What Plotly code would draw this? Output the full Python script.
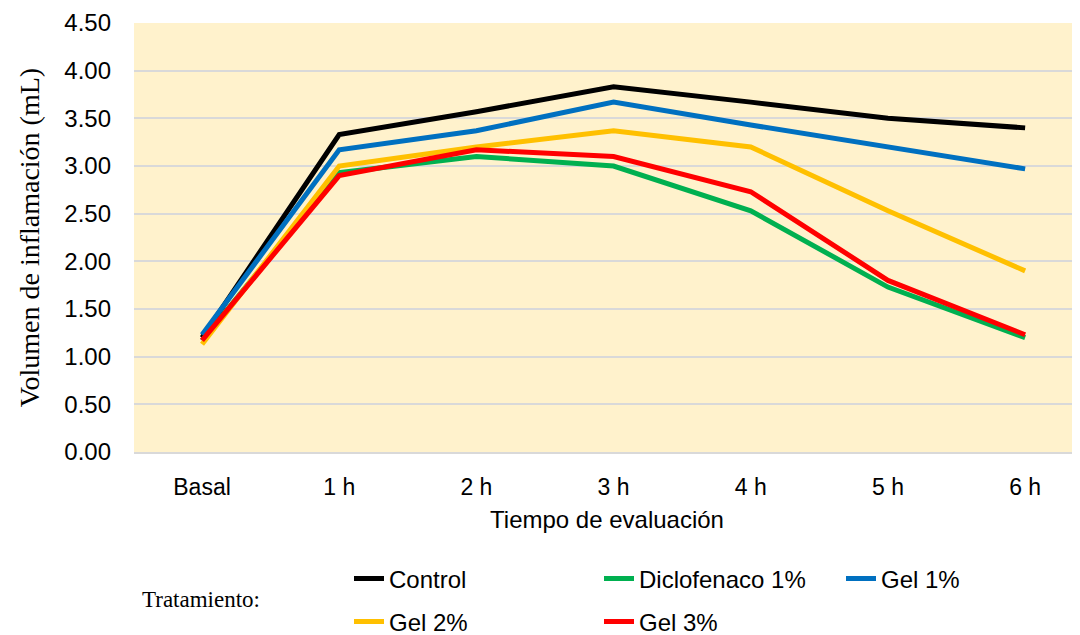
import plotly.graph_objects as go

categories = ["Basal", "1 h", "2 h", "3 h", "4 h", "5 h", "6 h"]
control = [1.20, 3.33, 3.57, 3.83, 3.67, 3.50, 3.40]
diclofenaco = [1.17, 2.93, 3.10, 3.00, 2.53, 1.73, 1.20]
gel1 = [1.23, 3.17, 3.37, 3.67, 3.43, 3.20, 2.97]
gel2 = [1.13, 3.00, 3.20, 3.37, 3.20, 2.53, 1.90]
gel3 = [1.17, 2.90, 3.17, 3.10, 2.73, 1.80, 1.23]

names = ["Control", "Diclofenaco 1%", "Gel 1%", "Gel 2%", "Gel 3%"]
values = [control, diclofenaco, gel1, gel2, gel3]
colors = ["#000000", "#00B050", "#0070C0", "#FFC000", "#FF0000"]
legend_ids = ["legend", "legend2", "legend3", "legend4", "legend5"]
# legend text start (px) and row center (px from top), as seen on screen
legend_pos = [(390, 580), (640, 580), (882, 580), (390, 623), (640, 623)]

OFF = 8  # page body margin offset
W, H = 1080 - OFF, 635 - OFF
L, R, T = 126, 0, 15
PH = 429
B = H - T - PH
PW = W - L - R

fig = go.Figure()
for name, vals, color, lg in zip(names, values, colors, legend_ids):
    fig.add_trace(go.Scatter(
        x=categories, y=vals, name=name, mode="lines",
        line=dict(color=color, width=5),
        legend=lg,
    ))

sans = "Liberation Sans, Arial"
serif = "Liberation Serif, Times New Roman"

legends = {}
for lg, (tx, ty) in zip(legend_ids, legend_pos):
    legends[lg] = dict(
        xref="container", yref="container",
        x=(tx - OFF - 41) / W, y=1 - (ty - OFF - 1) / H,
        xanchor="left", yanchor="middle",
        orientation="h",
        font=dict(family=sans, size=24, color="#000000"),
        bgcolor="rgba(0,0,0,0)", borderwidth=0,
    )

fig.update_layout(
    width=W, height=H,
    margin=dict(l=L, r=R, t=T, b=B),
    paper_bgcolor="#FFFFFF",
    plot_bgcolor="#FFF2CC",
    showlegend=True,
    xaxis=dict(
        type="category", range=[-0.496, 6.40], automargin=False,
        showgrid=False, showline=True, linecolor="#D9D9D9", linewidth=1.5,
        ticks="", ticklabelstandoff=14,
        tickfont=dict(family=sans, size=23, color="#000000"),
        title=dict(text="Tiempo de evaluación", standoff=12,
                   font=dict(family=sans, size=24, color="#000000")),
        zeroline=False,
    ),
    yaxis=dict(
        range=[0, 4.5], dtick=0.5, tickformat=".2f", automargin=False,
        showgrid=True, gridcolor="#D9D9D9", gridwidth=1.5,
        zeroline=False, showline=False, ticks="",
        ticklabelstandoff=22,
        tickfont=dict(family=sans, size=24, color="#000000"),
        title=dict(text="Volumen de inflamación (mL)", standoff=16,
                   font=dict(family=serif, size=28, color="#000000")),
    ),
    annotations=[dict(
        text="Tratamiento:", xref="paper", yref="paper",
        x=(140 - OFF - L) / PW, y=-(600 - OFF - (T + PH)) / PH,
        xanchor="left", yanchor="middle", showarrow=False,
        font=dict(family=serif, size=23, color="#000000"),
    )],
    **legends,
)

fig.write_html("out.html")
